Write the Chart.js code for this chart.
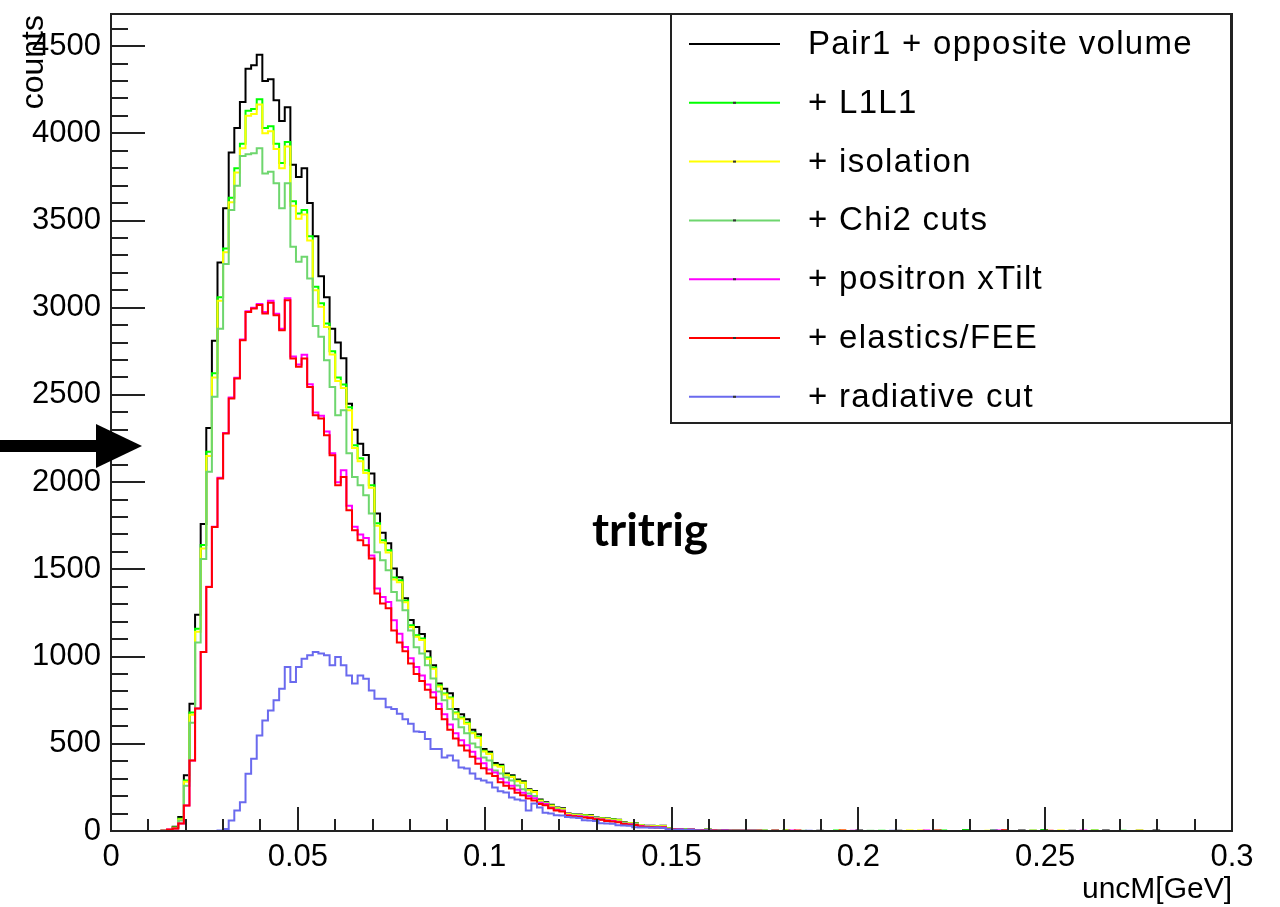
<!DOCTYPE html>
<html>
<head>
<meta charset="utf-8">
<title>uncM tritrig</title>
<script src="https://cdn.jsdelivr.net/npm/chart.js@4.4.0/dist/chart.umd.min.js"></script>
<style>
  html, body { margin: 0; padding: 0; background: #fff; }
  canvas { display: block; }
</style>
</head>
<body>
<canvas id="histChart" width="1280" height="907"></canvas>
<script>
// --- histogram binning: 200 bins on [0, 0.3] GeV ---
const nBins = 200;
const xMin = 0;
const xMax = 0.3;

// axis ticks
const xTickValues = [0, 0.05, 0.1, 0.15, 0.2, 0.25, 0.3];
const xTickLabels = ['0', '0.05', '0.1', '0.15', '0.2', '0.25', '0.3'];
const yTickValues = [0, 500, 1000, 1500, 2000, 2500, 3000, 3500, 4000, 4500];
const yTickLabels = ['0', '500', '1000', '1500', '2000', '2500', '3000', '3500', '4000', '4500'];

const seriesLabels = ['Pair1 + opposite volume', '+ L1L1', '+ isolation', '+ Chi2 cuts',
  '+ positron xTilt', '+ elastics/FEE', '+ radiative cut'];

// counts for bins 0..119
const pair1Counts = [
  0, 0, 0, 0, 0, 0, 0, 0, 0, 0,
  2, 5, 25, 80, 320, 730, 1240, 1760, 2310, 2810,
  3260, 3570, 3890, 4030, 4180, 4370, 4390, 4450, 4300, 4310,
  4190, 4070, 4150, 3820, 3750, 3800, 3600, 3410, 3180, 3060,
  2880, 2800, 2710, 2450, 2300, 2220, 2155, 2050, 1820, 1710,
  1650, 1505, 1455, 1335, 1210, 1170, 1130, 1030, 950, 845,
  815, 790, 700, 670, 640, 580, 555, 470, 455, 390,
  380, 330, 320, 295, 285, 240, 230, 180, 165, 150,
  135, 130, 100, 95, 95, 92, 90, 78, 75, 72,
  68, 65, 50, 45, 45, 35, 30, 30, 28, 30,
  15, 10, 12, 8, 10, 6, 5, 8, 4, 3,
  5, 2, 3, 2, 1, 2, 1, 1, 0, 1
];
const l1l1Counts = [
  0, 0, 0, 0, 0, 0, 0, 0, 0, 0,
  2, 4, 20, 70, 290, 680, 1160, 1640, 2175, 2625,
  3060, 3340, 3630, 3800, 3940, 4130, 4140, 4195, 4030, 4040,
  3940, 3830, 3950, 3610, 3540, 3560, 3410, 3120, 3025, 2910,
  2750, 2600, 2560, 2430, 2212, 2137, 2068, 1982, 1764, 1667,
  1609, 1454, 1437, 1322, 1179, 1122, 1104, 995, 938, 835,
  789, 766, 680, 650, 620, 565, 540, 460, 445, 380,
  372, 322, 312, 288, 278, 235, 225, 175, 160, 146,
  132, 126, 98, 93, 92, 90, 87, 76, 73, 70,
  66, 63, 48, 44, 43, 34, 29, 29, 27, 28,
  14, 10, 11, 8, 9, 6, 5, 7, 4, 3,
  5, 2, 3, 2, 1, 2, 1, 1, 0, 1
];
const isolationCounts = [
  0, 0, 0, 0, 0, 0, 0, 0, 0, 0,
  2, 4, 19, 66, 282, 666, 1142, 1620, 2150, 2600,
  3040, 3318, 3605, 3775, 3915, 4100, 4110, 4165, 4000, 4012,
  3910, 3800, 3925, 3585, 3510, 3535, 3385, 3100, 3005, 2890,
  2732, 2580, 2540, 2412, 2196, 2120, 2052, 1968, 1750, 1654,
  1596, 1442, 1426, 1311, 1170, 1113, 1095, 987, 930, 828,
  782, 760, 674, 645, 615, 560, 535, 456, 441, 377,
  369, 319, 309, 285, 276, 233, 223, 173, 159, 145,
  131, 125, 97, 92, 91, 89, 86, 75, 72, 69,
  65, 62, 47, 44, 42, 33, 29, 28, 27, 28,
  14, 9, 11, 7, 9, 6, 5, 7, 4, 3,
  4, 2, 3, 2, 1, 2, 1, 1, 0, 1
];
const chi2Counts = [
  0, 0, 0, 0, 0, 0, 0, 0, 0, 0,
  1, 3, 15, 60, 260, 620, 1080, 1560, 2060, 2490,
  2880, 3250, 3560, 3700, 3870, 3880, 3885, 3914, 3770, 3780,
  3713, 3570, 3713, 3349, 3263, 3292, 3168, 2895, 2833, 2699,
  2546, 2384, 2412, 2165, 2030, 1982, 1925, 1820, 1598, 1552,
  1495, 1370, 1322, 1265, 1150, 1053, 1018, 950, 875, 800,
  749, 700, 640, 595, 560, 502, 480, 422, 404, 347,
  330, 307, 290, 261, 240, 215, 200, 164, 158, 135,
  125, 118, 92, 88, 86, 84, 80, 72, 68, 62,
  60, 55, 44, 40, 38, 30, 26, 25, 22, 24,
  12, 9, 10, 7, 8, 5, 4, 6, 3, 3,
  4, 2, 2, 2, 1, 1, 1, 1, 0, 1
];
const xTiltCounts = [
  0, 0, 0, 0, 0, 0, 0, 0, 0, 0,
  2, 8, 15, 43, 146, 404, 703, 1026, 1400, 1745,
  2025, 2282, 2485, 2598, 2818, 2980, 3000, 3022, 2975, 3040,
  2965, 2880, 3055, 2720, 2675, 2730, 2562, 2400, 2380, 2290,
  2165, 2000, 2068, 1865, 1745, 1700, 1680, 1580, 1391, 1342,
  1313, 1208, 1131, 1055, 990, 940, 892, 840, 795, 730,
  670, 610, 560, 520, 492, 455, 415, 388, 352, 335,
  300, 278, 260, 236, 220, 200, 188, 162, 155, 133,
  120, 116, 90, 86, 84, 80, 78, 70, 66, 60,
  58, 52, 42, 38, 36, 28, 25, 23, 21, 22,
  12, 8, 10, 6, 8, 5, 4, 6, 3, 2,
  4, 2, 2, 1, 1, 1, 1, 0, 0, 1
];
const elasticsCounts = [
  0, 0, 0, 0, 0, 0, 0, 0, 0, 0,
  2, 8, 15, 43, 146, 404, 703, 1026, 1399, 1743,
  2021, 2279, 2480, 2594, 2814, 2976, 2996, 3015, 2967, 3028,
  2957, 2871, 3043, 2709, 2661, 2709, 2546, 2384, 2365, 2269,
  2154, 1982, 2030, 1839, 1724, 1667, 1638, 1563, 1362, 1305,
  1277, 1150, 1080, 1030, 960, 900, 860, 810, 765, 700,
  640, 580, 530, 490, 462, 425, 385, 360, 330, 315,
  280, 260, 244, 220, 205, 186, 175, 155, 148, 130,
  118, 112, 88, 84, 80, 77, 75, 68, 64, 58,
  55, 50, 40, 36, 34, 26, 23, 22, 20, 20,
  11, 8, 9, 6, 7, 5, 4, 5, 3, 2,
  3, 2, 2, 1, 1, 1, 1, 0, 0, 1
];
const radiativeCounts = [
  0, 0, 0, 0, 0, 0, 0, 0, 0, 0,
  0, 0, 0, 0, 0, 0, 0, 0, 0, 0,
  3, 12, 60, 118, 165, 328, 414, 548, 634, 691,
  749, 816, 940, 854, 940, 988, 1007, 1026, 1017, 1007,
  950, 997, 950, 892, 845, 892, 873, 806, 758, 758,
  710, 700, 672, 640, 615, 570, 568, 528, 470, 470,
  422, 433, 404, 364, 358, 330, 300, 290, 278, 250,
  228, 221, 192, 180, 175, 118, 158, 135, 105, 100,
  90, 89, 80, 77, 75, 62, 60, 58, 45, 43,
  42, 33, 32, 30, 22, 20, 20, 18, 20, 17,
  10, 7, 8, 6, 7, 5, 3, 4, 2, 2,
  3, 1, 2, 1, 1, 1, 0, 0, 0, 0
];

// sparse far tail, [bin, count]
const pair1Tail = [[121, 3], [127, 2], [134, 3], [141, 2], [153, 4], [158, 3], [163, 3], [167, 4], [172, 2], [178, 3], [184, 2], [187, 3]];
const l1l1Tail = [[121, 3], [130, 3], [138, 2], [149, 3], [153, 4], [160, 3], [167, 4], [176, 3], [181, 2]];
const isolationTail = [[121, 3], [131, 3], [143, 3], [145, 3], [157, 2], [165, 3], [170, 3], [176, 3], [184, 3]];
const chi2Tail = [[124, 2], [136, 2], [148, 3], [158, 3], [165, 3], [176, 3]];
const xTiltTail = [[122, 3], [133, 2], [146, 3], [159, 3], [174, 3]];
const elasticsTail = [[123, 3], [131, 3], [148, 3], [160, 4], [168, 2]];
const radiativeTail = [[125, 2], [140, 2], [158, 2]];

const lineColors = ['#000000', '#00ff00', '#ffff00', '#6ed66e', '#ff00ff', '#ff0000', '#6a6aee'];

function fullCounts(head, tail) {
    const c = new Array(nBins).fill(0);
    head.forEach((v, i) => { c[i] = v; });
    tail.forEach(([b, v]) => { c[b] = v; });
    return c;
}

// step outline: one point per low bin edge, plus the upper edge of the last bin
function histPoints(counts) {
    const w = (xMax - xMin) / nBins;
    const pts = counts.map((c, i) => ({ x: xMin + i * w, y: c }));
    pts.push({ x: xMax, y: counts[counts.length - 1] });
    return pts;
}

const allCounts = [
    fullCounts(pair1Counts, pair1Tail),
    fullCounts(l1l1Counts, l1l1Tail),
    fullCounts(isolationCounts, isolationTail),
    fullCounts(chi2Counts, chi2Tail),
    fullCounts(xTiltCounts, xTiltTail),
    fullCounts(elasticsCounts, elasticsTail),
    fullCounts(radiativeCounts, radiativeTail)
];

// ROOT draws later histograms on top -> lower `order` for later ones
const datasets = allCounts.map((counts, i) => ({
    label: seriesLabels[i],
    data: histPoints(counts),
    borderColor: lineColors[i],
    borderWidth: 2,
    stepped: 'after',
    pointRadius: 0,
    fill: false,
    order: allCounts.length - 1 - i
}));

// frame, inside ticks, legend box and annotations in the ROOT look
const rootDecor = {
    id: 'rootDecor',
    afterDraw(chart) {
        const { ctx, chartArea: a, scales: { x, y } } = chart;
        ctx.save();
        ctx.strokeStyle = '#222';
        ctx.lineWidth = 2;

        // x ticks every 0.01, major every 0.05
        for (let k = 0; k <= 30; k++) {
            const px = Math.round(x.getPixelForValue(k * 0.01));
            const len = k % 5 === 0 ? 24 : 12;
            ctx.beginPath();
            ctx.moveTo(px, a.bottom);
            ctx.lineTo(px, a.bottom - len);
            ctx.stroke();
        }
        // y ticks every 100, major every 500
        for (let k = 0; k <= 46; k++) {
            const py = Math.round(y.getPixelForValue(k * 100));
            const len = k % 5 === 0 ? 34 : 17;
            ctx.beginPath();
            ctx.moveTo(a.left, py);
            ctx.lineTo(a.left + len, py);
            ctx.stroke();
        }
        ctx.strokeRect(a.left, a.top, a.right - a.left, a.bottom - a.top);

        // legend
        const lg = { left: 671, top: 14, right: 1231, bottom: 423 };
        ctx.fillStyle = '#fff';
        ctx.fillRect(lg.left, lg.top, lg.right - lg.left, lg.bottom - lg.top);
        ctx.strokeRect(lg.left, lg.top, lg.right - lg.left, lg.bottom - lg.top);
        ctx.font = '33px "Liberation Sans", Arial, sans-serif';
        ctx.letterSpacing = '1.3px';
        ctx.textBaseline = 'middle';
        ctx.textAlign = 'left';
        chart.data.datasets.forEach((ds, i) => {
            const cy = 44 + i * 58.8;
            ctx.strokeStyle = ds.borderColor;
            ctx.lineWidth = 2;
            ctx.beginPath();
            ctx.moveTo(689, cy);
            ctx.lineTo(780, cy);
            ctx.stroke();
            if (i > 0) {
                ctx.fillStyle = '#333';
                ctx.fillRect(733, cy - 1, 3, 2);
            }
            ctx.fillStyle = '#000';
            ctx.fillText(ds.label, 808, cy + 1);
        });
        ctx.letterSpacing = '0px';

        // axis titles
        ctx.fillStyle = '#000';
        ctx.font = '30px "Liberation Sans", Arial, sans-serif';
        ctx.textBaseline = 'alphabetic';
        ctx.textAlign = 'right';
        ctx.fillText('uncM[GeV]', a.right, 898);
        ctx.save();
        ctx.translate(43, a.top + 1);
        ctx.rotate(-Math.PI / 2);
        ctx.font = '32px "Liberation Sans", Arial, sans-serif';
        ctx.textAlign = 'right';
        ctx.fillText('counts', 0, 0);
        ctx.restore();

        // sample tag
        ctx.font = 'bold 46px Lato, "Open Sans", sans-serif';
        ctx.textAlign = 'center';
        ctx.textBaseline = 'middle';
        ctx.fillText('tritrig', 650, 531);

        // arrow pointing at the axis
        ctx.fillStyle = '#000';
        ctx.fillRect(0, 440, 100, 12);
        ctx.beginPath();
        ctx.moveTo(96, 424);
        ctx.lineTo(142, 446);
        ctx.lineTo(96, 468);
        ctx.closePath();
        ctx.fill();
        ctx.restore();
    }
};

Chart.defaults.font.family = '"Liberation Sans", Arial, sans-serif';
Chart.defaults.color = '#000';

new Chart(document.getElementById('histChart').getContext('2d'), {
    type: 'line',
    data: { datasets: datasets },
    options: {
        responsive: false,
        animation: false,
        devicePixelRatio: 1,
        layout: { padding: { top: 14, right: 48, left: 0, bottom: 0 } },
        plugins: {
            legend: { display: false },
            tooltip: { enabled: false }
        },
        scales: {
            x: {
                type: 'linear',
                min: xMin,
                max: xMax,
                grid: { display: false, drawTicks: false },
                border: { display: false },
                afterBuildTicks: (scale) => { scale.ticks = xTickValues.map(v => ({ value: v })); },
                afterFit: (scale) => {
                    scale.height = 76;
                    scale.paddingLeft = 0;
                    scale.paddingRight = 0;
                },
                ticks: {
                    autoSkip: false,
                    maxRotation: 0,
                    padding: 8,
                    font: { size: 31 },
                    callback: (value, index) => xTickLabels[index]
                }
            },
            y: {
                type: 'linear',
                min: 0,
                max: 4684,
                grid: { display: false, drawTicks: false },
                border: { display: false },
                afterBuildTicks: (scale) => { scale.ticks = yTickValues.map(v => ({ value: v })); },
                afterFit: (scale) => {
                    scale.width = 111;
                    scale.paddingTop = 0;
                    scale.paddingBottom = 0;
                },
                ticks: {
                    autoSkip: false,
                    padding: 10,
                    font: { size: 31 },
                    callback: (value, index) => yTickLabels[index]
                }
            }
        }
    },
    plugins: [rootDecor]
});
</script>
</body>
</html>
